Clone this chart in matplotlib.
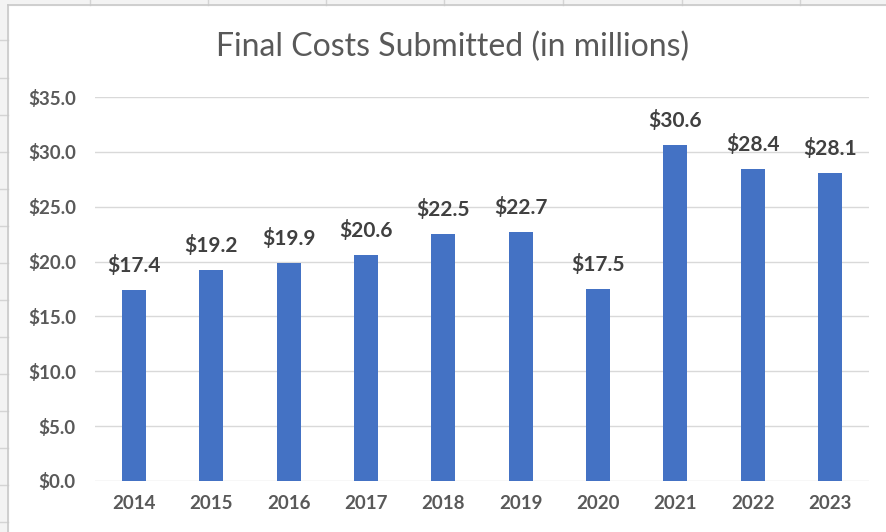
import matplotlib
matplotlib.use("Agg")
import matplotlib.pyplot as plt
from matplotlib.lines import Line2D

years = ["2014", "2015", "2016", "2017", "2018", "2019", "2020", "2021", "2022", "2023"]
costs = [17.4, 19.2, 19.9, 20.6, 22.5, 22.7, 17.5, 30.6, 28.4, 28.1]
yticks = [0, 5, 10, 15, 20, 25, 30, 35]
title = "Final Costs Submitted (in millions)"

plt.rcParams['font.family'] = ['Lato', 'DejaVu Sans']

fig = plt.figure(figsize=(8.87, 5.32), dpi=100)
W, H = 887, 532

# spreadsheet background artifacts
def fl(x0, y0, x1, y1, c="#d4d4d4", lw=1.0):
    fig.add_artist(Line2D([x0 / W, x1 / W], [1 - y0 / H, 1 - y1 / H], color=c, lw=lw,
                          transform=fig.transFigure))

fig.patches.append(plt.Rectangle((0, 1 - 5 / H), 1, 5 / H, transform=fig.transFigure,
                                 color="#f3f3f3", zorder=0))
fig.patches.append(plt.Rectangle((0, 0), 8 / W, 1, transform=fig.transFigure,
                                 color="#f3f3f3", zorder=0))
for x in [90, 208, 326, 444, 563, 682, 800]:
    fl(x, 0, x, 5)
for y in [40, 78, 115, 152, 189, 226, 263, 300, 337, 374, 411, 448, 485, 522]:
    fl(0, y, 8, y)
fl(8, 5, W, 5, c="#c8c8c8", lw=1.2)
fl(8, 5, 8, H, c="#c8c8c8", lw=1.2)

ax = fig.add_axes([95.3 / W, 51 / H, (868.7 - 95.3) / W, (481 - 97) / H])
x = range(len(years))
bars = ax.bar(x, costs, width=0.31, color="#4472c4", zorder=2)
ax.set_xlim(-0.5, len(years) - 0.5)
ax.set_ylim(0, 35)
ax.set_yticks(yticks)
ax.set_yticklabels([f"${v:.1f}" for v in yticks], fontsize=13.5, fontweight="bold", color="#595959")
ax.set_xticks(list(x))
ax.set_xticklabels(years, fontsize=13.5, fontweight="bold", color="#595959")
ax.tick_params(length=0)
ax.tick_params(axis="x", pad=10)
ax.tick_params(axis="y", pad=14)
ax.grid(axis="y", color="#d9d9d9", lw=1.0, zorder=0)
for s in ax.spines.values():
    s.set_visible(False)
for xi, v in zip(x, costs):
    ax.annotate(f"${v:.1f}", (xi, v), xytext=(0, 13), textcoords="offset points",
                ha="center", va="baseline", fontsize=15, fontweight="bold", color="#404040")

fig.text(453 / W, 1 - 47 / H, title, ha="center", va="center", fontsize=23, color="#595959")

fig.savefig("out.png", dpi=100)
